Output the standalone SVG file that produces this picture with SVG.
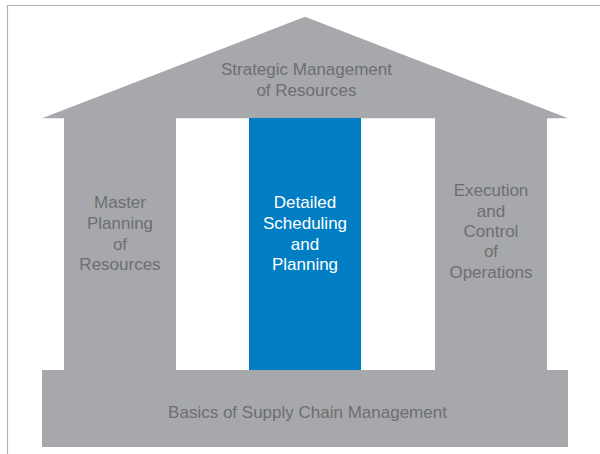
<svg xmlns="http://www.w3.org/2000/svg" width="600" height="454" viewBox="0 0 600 454">
<style>
.g{fill:#a7a8ab}
.t{font-family:"Liberation Sans",Arial,sans-serif;font-size:17px;fill:#6d6e71;text-anchor:middle}
.w{fill:#ffffff}
</style>
<rect width="600" height="454" fill="#ffffff"/>
<path d="M7.5 454 V5.5 H600" fill="none" stroke="#b3b3b3" stroke-width="1.2"/>
<g id="roof">
<polygon class="g" points="42,118.3 305,16.7 568,118.3"/>
<text class="t" x="306.5" y="75">Strategic Management</text>
<text class="t" x="306.5" y="95.5">of Resources</text>
</g>
<g id="master">
<rect class="g" x="64" y="118" width="112" height="252"/>
<text class="t" x="120" y="208.3">Master</text>
<text class="t" x="120" y="229">Planning</text>
<text class="t" x="120" y="249.5">of</text>
<text class="t" x="120" y="270">Resources</text>
</g>
<g id="detailed">
<rect x="249" y="118" width="112" height="252" fill="#017dc3"/>
<text class="t w" x="305" y="208.3">Detailed</text>
<text class="t w" x="305" y="229">Scheduling</text>
<text class="t w" x="305" y="249.5">and</text>
<text class="t w" x="305" y="270">Planning</text>
</g>
<g id="execution">
<rect class="g" x="435" y="118" width="112" height="252"/>
<text class="t" x="491" y="196">Execution</text>
<text class="t" x="491" y="216.5">and</text>
<text class="t" x="491" y="237">Control</text>
<text class="t" x="491" y="257">of</text>
<text class="t" x="491" y="277.5">Operations</text>
</g>
<g id="base">
<rect class="g" x="42" y="370" width="526" height="77"/>
<text class="t" x="307.5" y="418.3">Basics of Supply Chain Management</text>
</g>
<g id="connectors"/>
</svg>
